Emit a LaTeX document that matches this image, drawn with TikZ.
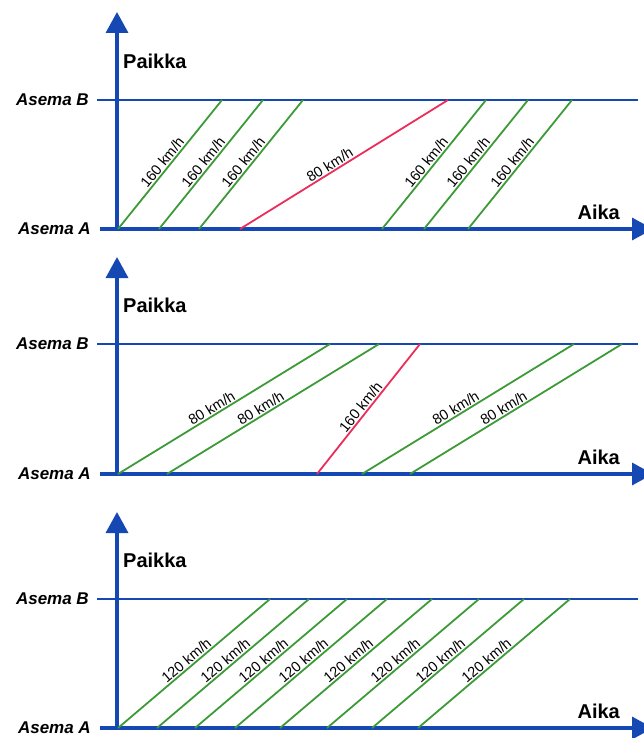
\documentclass[tikz,border=0pt]{standalone}
\usepackage{fontspec}
\setmainfont{Liberation Sans}
\usetikzlibrary{arrows.meta}
\definecolor{axisblue}{RGB}{22,72,180}
\definecolor{trgreen}{RGB}{60,155,55}
\definecolor{trred}{RGB}{235,45,90}
\begin{document}
\begin{tikzpicture}[x=1pt,y=-1pt,
  axis/.style={draw=axisblue, line width=3.5pt},
  arr/.style={-{Triangle[width=22pt,length=21pt]}},
  station/.style={draw=axisblue, line width=1.7pt},
  train/.style={line width=1.8pt},
  g/.style={train, draw=trgreen},
  r/.style={train, draw=trred},
  spd/.style={font=\fontsize{14.5}{15}\selectfont, sloped, above, pos=0.5, inner sep=1.2pt},
  stlab/.style={font=\fontsize{17}{18}\selectfont\bfseries\itshape, anchor=east, inner sep=0pt},
  ylab/.style={font=\fontsize{20}{21}\selectfont\bfseries, anchor=west, inner sep=0pt},
  xlab/.style={font=\fontsize{20}{21}\selectfont\bfseries, anchor=east, inner sep=0pt}]
\useasboundingbox (0,0) rectangle (643,738);

% ---------- Panel 1 ----------
\coordinate (bl1) at (97,100);  \coordinate (br1) at (638,100);
\coordinate (xl1) at (100,229); \coordinate (xr1) at (653,229);
\coordinate (o1) at (117,229);  \coordinate (yt1) at (117,12);
\draw[station] (bl1) -- (br1);
\draw[axis,arr] (o1) -- (yt1);
\draw[axis,arr] (xl1) -- (xr1);
\node[stlab] (sb1) at (89,100) {Asema B};
\node[stlab] (sa1) at (91,229) {Asema A};
\node[ylab] (p1) at (123,61) {Paikka};
\node[xlab] (t1) at (620,212) {Aika};
\foreach \a/\b/\n in {118/222/1,159/263/2,199/303/3,382/486/4,424/528/5,468/572/6}{
  \coordinate (s1\n) at (\a,229); \coordinate (e1\n) at (\b,100);
  \draw[g] (s1\n) -- node[spd, pos=0.48] (l1\n) {160 km/h} (e1\n);
}
\coordinate (s1r) at (240,229); \coordinate (e1r) at (448,100);
\draw[r] (s1r) -- node[spd, pos=0.45] (l1r) {80 km/h} (e1r);

% ---------- Panel 2 ----------
\coordinate (bl2) at (97,344);  \coordinate (br2) at (638,344);
\coordinate (xl2) at (100,474); \coordinate (xr2) at (653,474);
\coordinate (o2) at (117,474);  \coordinate (yt2) at (117,257);
\draw[station] (bl2) -- (br2);
\draw[axis,arr] (o2) -- (yt2);
\draw[axis,arr] (xl2) -- (xr2);
\node[stlab] (sb2) at (89,344) {Asema B};
\node[stlab] (sa2) at (91,474) {Asema A};
\node[ylab] (p2) at (123,305) {Paikka};
\node[xlab] (t2) at (620,457) {Aika};
\foreach \a/\b/\n in {118/330/1,167/379/2,362/574/3,410/622/4}{
  \coordinate (s2\n) at (\a,474); \coordinate (e2\n) at (\b,344);
  \draw[g] (s2\n) -- node[spd, pos=0.46] (l2\n) {80 km/h} (e2\n);
}
\coordinate (s2r) at (317,474); \coordinate (e2r) at (420,344);
\draw[r] (s2r) -- node[spd, pos=0.48] (l2r) {160 km/h} (e2r);

% ---------- Panel 3 ----------
\coordinate (bl3) at (97,599);  \coordinate (br3) at (638,599);
\coordinate (xl3) at (100,728); \coordinate (xr3) at (653,728);
\coordinate (o3) at (117,728);  \coordinate (yt3) at (117,512);
\draw[station] (bl3) -- (br3);
\draw[axis,arr] (o3) -- (yt3);
\draw[axis,arr] (xl3) -- (xr3);
\node[stlab] (sb3) at (89,599) {Asema B};
\node[stlab] (sa3) at (91,728) {Asema A};
\node[ylab] (p3) at (123,560) {Paikka};
\node[xlab] (t3) at (620,711) {Aika};
\foreach \a/\n in {118/1,157/2,195/3,235/4,280/5,327/6,372/7,418/8}{
  \coordinate (s3\n) at (\a,728); \coordinate (e3\n) at ({\a+152},599);
  \draw[g] (s3\n) -- node[spd, pos=0.48] (l3\n) {120 km/h} (e3\n);
}
\end{tikzpicture}
\end{document}
